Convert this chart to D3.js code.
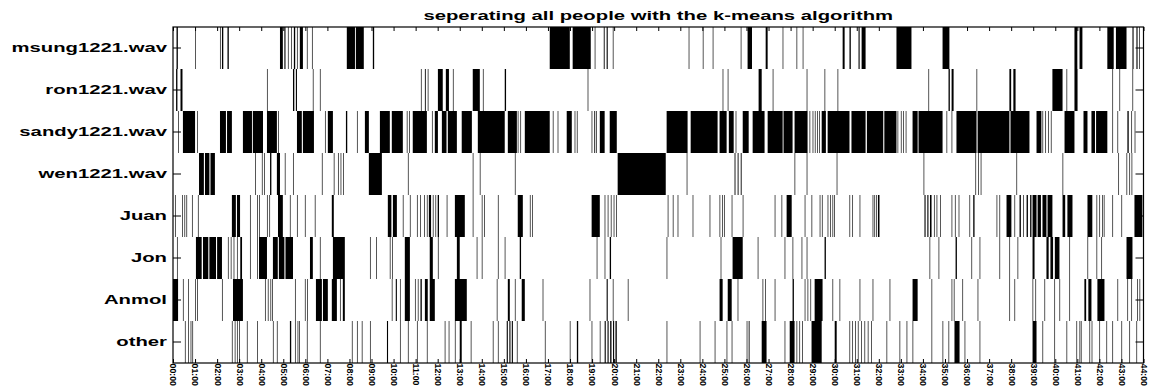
<!DOCTYPE html>
<html>
<head>
<meta charset="utf-8">
<script src="https://cdn.jsdelivr.net/npm/d3@7"></script>
<style>
  body { margin: 0; background: #fff; }
  svg { display: block; }
  text { font-family: "Liberation Sans", Arial, sans-serif; fill: #000; }
</style>
</head>
<body>
<svg id="chart" width="1150" height="387"></svg>
<script>
// Speaker rows, top to bottom
const speakers = ["msung1221.wav", "ron1221.wav", "sandy1221.wav", "wen1221.wav", "Juan", "Jon", "Anmol", "other"];

// Minute tick labels along the time axis
const tickLabels = ["00:00","01:00","02:00","03:00","04:00","05:00","06:00","07:00","08:00","09:00",
  "10:00","11:00","12:00","13:00","14:00","15:00","16:00","17:00","18:00","19:00",
  "20:00","21:00","22:00","23:00","24:00","25:00","26:00","27:00","28:00","29:00",
  "30:00","31:00","32:00","33:00","34:00","35:00","36:00","37:00","38:00","39:00",
  "40:00","41:00","42:00","43:00","44:00"];

const titleText = "seperating all people with the k-means algorithm";

// Segments assigned to each cluster: [start, end] in minutes
const segMsung = [
  [0.16,0.22],[1.00,1.03],[2.13,2.16],[2.22,2.28],[2.47,2.53],
  [4.85,4.98],[5.05,5.10],[5.21,5.24],[5.35,5.38],[5.48,5.54],[5.62,5.65],[5.75,5.89],[6.07,6.10],[6.30,6.33],
  [7.88,8.25],[8.29,8.65],[9.06,9.12],
  [17.08,17.99],[18.12,18.94],[19.12,19.15],[19.53,19.57],[19.66,19.71],[19.94,19.97],
  [23.38,23.41],[24.02,24.05],[24.47,24.50],[25.74,25.77],[26.05,26.25],[26.87,26.96],[27.64,27.67],[28.27,28.30],[28.55,28.58],
  [30.36,30.45],[30.67,30.73],[31.08,31.13],[31.22,31.40],[32.80,33.48],
  [34.89,35.20],[40.87,41.00],[41.10,41.23],[42.36,42.65],[42.75,43.23],[43.50,43.55],[43.68,43.73],[43.81,43.84]
];

const segRon = [
  [0.14,0.20],[0.34,0.43],[4.26,4.29],[5.44,5.50],[5.57,5.62],[6.34,6.37],[6.66,6.69],
  [11.24,11.27],[11.42,11.46],[11.55,11.58],[12.01,12.23],[12.37,12.51],[12.69,12.72],[13.59,13.91],[14.05,14.08],[15.04,15.10],[18.80,18.83],
  [24.92,24.95],[25.15,25.18],[26.55,26.69],[27.19,27.22],[28.73,28.76],[29.54,29.57],[30.13,30.16],
  [34.25,34.28],[35.16,35.22],[35.30,35.39],[36.43,36.46],[37.92,38.00],[38.10,38.20],[39.87,40.33],[40.51,40.54],[40.87,41.01],
  [42.59,42.62],[42.91,42.94],[43.50,43.53]
];

const segSandy = [
  [0.23,0.26],[0.45,1.00],[1.09,1.12],[2.13,2.40],[2.45,2.67],[3.17,3.58],[3.62,4.08],[4.26,4.71],[4.76,4.79],
  [5.62,5.84],[5.89,6.39],[6.89,6.92],[7.02,7.25],[7.84,7.90],[8.34,8.37],[8.70,8.88],[9.38,9.83],[9.92,10.42],[10.60,10.63],[10.70,10.73],
  [10.87,11.51],[11.74,11.77],[11.87,12.01],[12.19,12.40],[12.46,12.87],[13.09,13.55],[13.82,15.04],[15.18,15.59],[15.63,15.66],[15.75,15.78],
  [15.95,17.08],[17.22,17.25],[17.44,17.47],[17.85,18.08],[18.21,18.24],[18.31,18.34],[18.98,19.01],[19.10,19.14],[19.18,19.21],[19.35,19.57],[19.80,20.12],
  [22.38,23.33],[23.47,24.69],[24.78,25.10],[25.20,25.42],[25.51,25.54],[25.83,26.10],[26.28,26.82],[26.96,27.64],[27.68,28.09],[28.18,28.77],
  [28.86,28.89],[29.00,29.03],[29.10,29.13],[29.20,29.23],[29.29,29.32],[29.41,29.60],[29.68,30.67],[30.76,31.40],[31.46,32.20],[32.25,32.80],
  [32.85,32.88],[33.00,33.03],[33.10,33.13],[33.22,33.25],
  [33.53,33.76],[33.80,34.89],[35.07,35.10],[35.30,35.33],[35.52,36.43],[36.48,37.92],[37.97,38.83],[39.15,39.37],[39.42,39.45],[39.55,39.58],
  [39.68,39.71],[39.80,39.83],[40.42,40.87],[41.28,41.46],[41.64,41.80],[41.85,42.36],[42.59,42.62],[42.82,42.85],[43.27,43.33],[43.45,43.48],[43.60,43.63]
];

const segWen = [
  [1.18,1.40],[1.45,1.65],[1.70,1.90],[3.72,3.75],[4.03,4.06],[4.14,4.17],[4.40,4.46],[4.71,4.85],[5.07,5.10],[5.44,5.47],
  [6.75,6.78],[7.29,7.32],[7.48,7.51],[7.60,7.63],[7.72,7.75],[8.88,9.47],[10.65,10.68],
  [13.59,13.62],[13.91,13.94],[15.50,15.53],[20.16,22.34],
  [23.29,23.32],[25.46,25.50],[25.60,25.64],[25.74,25.78],[28.18,28.21],[28.73,28.76],[30.09,30.12],
  [34.03,34.06],[36.38,36.41],[36.50,36.53],[36.62,36.65],[38.24,38.27],[40.33,40.36],[42.86,42.89],[43.23,43.26],[43.36,43.39],[43.46,43.49]
];

const segJuan = [
  [0.09,0.12],[0.41,0.44],[0.52,0.55],[0.61,0.64],[0.86,0.89],[1.13,1.16],[2.67,2.85],[2.90,3.04],[3.49,3.52],[3.81,3.84],[3.91,3.94],
  [4.26,4.29],[4.37,4.40],[4.76,4.98],[5.30,5.33],[5.62,5.65],[5.98,6.01],[6.43,6.46],[7.20,7.29],[9.74,9.90],[9.97,10.15],[10.42,10.45],[10.74,10.77],
  [11.06,11.09],[11.20,11.23],[11.38,11.41],[11.51,11.54],[11.60,11.70],[11.78,11.81],[11.90,11.93],[12.00,12.06],[12.41,12.44],[12.78,13.23],
  [13.59,13.62],[14.00,14.03],[14.11,14.14],[14.73,14.76],[15.63,15.86],[16.18,16.21],[16.28,16.31],[18.98,19.35],
  [19.57,19.60],[19.71,19.74],[19.85,19.88],[19.98,20.01],[20.09,20.12],
  [22.43,22.46],[22.66,22.69],[22.88,22.91],[23.56,23.59],[24.33,24.36],[24.78,24.81],[24.90,24.93],[24.98,25.01],[25.33,25.36],[25.83,25.86],
  [27.28,27.31],[27.59,27.62],[27.82,28.05],[28.64,28.67],[28.95,28.98],[29.32,29.35],[29.42,29.45],[29.68,29.71],[29.80,29.83],[29.90,29.93],[29.97,30.00],
  [30.67,30.70],[30.80,30.83],[31.13,31.16],[31.72,31.75],[31.80,31.83],[31.88,31.91],[31.96,32.03],
  [34.07,34.12],[34.20,34.25],[34.32,34.39],[34.50,34.53],[34.62,34.65],[34.78,34.81],[35.30,35.33],[35.45,35.48],[35.62,35.65],[36.11,36.14],[36.28,36.34],
  [37.34,37.37],[37.47,37.50],[37.79,38.01],[38.15,38.18],[38.38,38.44],[38.55,38.58],[38.70,38.76],[38.86,38.92],
  [38.97,39.15],[39.20,39.35],[39.42,39.60],[39.65,39.87],[40.33,40.45],[40.55,40.78],[41.46,41.68],
  [41.87,41.90],[42.00,42.03],[42.12,42.15],[42.20,42.23],[42.59,42.62],[43.00,43.03],[43.59,43.95]
];

const segJon = [
  [0.18,0.21],[1.04,1.30],[1.36,1.60],[1.65,1.95],[2.00,2.22],[2.49,2.52],[2.62,2.65],[2.75,2.78],[2.90,2.93],[3.05,3.13],[3.49,3.52],
  [3.81,3.84],[3.90,4.26],[4.53,4.75],[4.80,5.05],[5.10,5.44],[6.21,6.34],[6.66,6.69],[7.25,7.79],[8.93,8.96],[9.21,9.24],[9.83,9.86],[9.94,9.97],[10.51,10.74],
  [11.64,11.78],[12.01,12.04],[12.87,13.00],[13.77,13.80],[14.00,14.03],[14.73,14.76],[15.04,15.07],[15.72,15.78],[19.21,19.24],[19.57,19.60],[19.80,19.86],
  [22.38,22.41],[24.83,24.86],[25.37,25.83],[26.51,26.54],[27.73,27.76],[28.09,28.12],[28.50,28.53],[28.73,28.76],[29.54,29.60],
  [34.30,34.33],[34.71,34.74],[35.48,35.54],[36.20,36.23],[36.57,36.60],[37.47,37.50],[37.92,37.95],[38.29,38.32],[38.97,39.06],
  [39.60,39.70],[39.78,39.90],[39.98,40.19],[40.64,40.67],[41.46,41.49],[41.87,41.90],[42.09,42.12],[43.23,43.50]
];

const segAnmol = [
  [0.00,0.23],[0.45,0.48],[0.68,0.71],[1.00,1.03],[1.10,1.13],[2.22,2.25],[2.72,3.17],[4.17,4.20],[4.30,4.33],[4.42,4.45],[4.50,4.53],
  [5.53,5.56],[5.98,6.01],[6.09,6.12],[6.48,6.75],[6.80,7.02],[7.20,7.43],[7.57,7.60],[7.70,7.79],[9.92,9.95],[10.10,10.15],[10.29,10.32],[10.51,10.74],
  [10.97,11.00],[11.10,11.13],[11.22,11.28],[11.42,11.55],[11.64,11.87],[12.78,13.32],[14.68,14.71],[15.18,15.27],[15.50,15.53],[15.81,15.95],
  [16.76,16.79],[18.89,18.92],[19.66,19.71],[19.94,19.97],[20.62,20.65],
  [24.78,24.92],[25.15,25.33],[25.60,25.63],[26.73,26.76],[26.85,26.88],[27.28,27.31],[28.09,28.15],[28.64,28.67],[28.77,28.80],[28.90,28.93],
  [29.09,29.45],[29.90,29.93],[30.22,30.25],[31.13,31.16],[31.72,31.75],[32.49,32.52],
  [33.53,33.76],[34.39,34.42],[35.30,35.33],[35.40,35.43],[35.79,35.82],[36.48,36.51],[37.92,37.95],[38.15,38.18],[38.97,39.00],[39.10,39.13],
  [39.51,39.54],[39.96,39.99],[40.19,40.22],[40.64,40.67],[41.32,41.40],[41.50,41.64],[41.91,42.23],[42.82,42.85],[43.27,43.30],[43.45,43.48],
  [43.72,43.75],[43.82,43.85]
];

const segOther = [
  [0.54,0.57],[0.68,0.71],[0.80,0.83],[0.88,0.91],[2.67,2.70],[2.80,2.83],[2.90,2.93],[3.00,3.03],[3.35,3.38],[3.81,3.84],[4.53,4.56],[4.71,4.74],
  [5.30,5.36],[5.53,5.56],[5.65,5.68],[5.72,5.75],[6.07,6.10],[6.66,6.69],[8.11,8.14],[8.34,8.37],[8.56,8.59],[8.93,8.96],[9.70,9.75],[10.29,10.32],[10.65,10.68],
  [11.06,11.09],[11.51,11.54],[12.32,12.35],[12.50,12.53],[12.78,12.81],[13.00,13.09],[13.50,13.53],[14.50,14.53],[14.73,14.76],
  [15.13,15.18],[15.25,15.30],[15.36,15.41],[15.59,15.62],[16.86,16.89],[17.99,18.02],[18.31,18.37],[18.98,19.01],[19.35,19.38],
  [19.57,19.62],[19.70,19.75],[19.82,19.88],[19.95,20.00],[20.06,20.12],
  [22.38,22.41],[23.88,23.91],[24.56,24.59],[25.10,25.13],[25.33,25.36],[26.01,26.04],[26.10,26.14],[26.69,26.91],[27.73,27.76],[27.96,28.18],
  [28.27,28.30],[28.40,28.43],[28.52,28.55],[28.95,29.41],[30.00,30.09],
  [30.67,30.70],[30.80,30.83],[30.92,30.95],[31.05,31.08],[31.20,31.23],[31.35,31.38],[31.50,31.53],[31.65,31.68],[32.35,32.38],[32.94,32.97],
  [33.26,33.29],[33.53,33.56],[34.39,34.42],[34.89,34.92],[35.16,35.19],[35.43,35.66],[35.89,35.92],[36.57,36.60],[38.97,39.15],[39.42,39.45],
  [39.96,39.99],[40.51,40.54],[40.96,40.99],[41.10,41.13],[41.16,41.19],[41.55,41.58],[41.65,41.68],[42.00,42.03],[42.32,42.35],[42.59,42.62],
  [43.00,43.03],[43.36,43.39],[43.68,43.71]
];

const segmentsBySpeaker = [segMsung, segRon, segSandy, segWen, segJuan, segJon, segAnmol, segOther];

// ---- layout ----
const svg = d3.select("#chart");
const plotLeft = 173, plotRight = 1143.5, plotTop = 27, plotBottom = 363;
const textStretch = 1.69;   // wide lettering of the title and row labels

const x = d3.scaleLinear().domain([0, 44]).range([plotLeft, plotRight]);
const y = d3.scaleBand().domain(speakers).range([plotTop, plotBottom]).padding(0);

// ---- segment bars ----
const rowsG = svg.append("g");
speakers.forEach((name, i) => {
  rowsG.append("g")
    .selectAll("rect")
    .data(segmentsBySpeaker[i])
    .join("rect")
    .attr("x", d => x(d[0]))
    .attr("y", y(name))
    .attr("width", d => Math.max(x(d[1]) - x(d[0]), 0.6))
    .attr("height", y.bandwidth())
    .attr("fill", "#000");
});

// ---- axes (inward ticks) ----
const minuteTicks = d3.range(tickLabels.length);

const xBottom = svg.append("g")
  .attr("transform", `translate(0,${plotBottom})`)
  .call(d3.axisBottom(x).tickValues(minuteTicks).tickSize(-4).tickSizeOuter(0)
    .tickFormat(i => tickLabels[i]));
xBottom.selectAll("text")
  .attr("transform", "rotate(90)")
  .attr("x", 0.5)
  .attr("y", 0)
  .attr("dy", "0.35em")
  .attr("text-anchor", "start")
  .style("font-size", "8.8px")
  .style("font-weight", "bold");

svg.append("g")
  .attr("transform", `translate(0,${plotTop})`)
  .call(d3.axisTop(x).tickValues(minuteTicks).tickSize(-4).tickSizeOuter(0).tickFormat(""));

const yLeft = svg.append("g")
  .attr("transform", `translate(${plotLeft},0)`)
  .call(d3.axisLeft(y).tickSize(-8).tickSizeOuter(0).tickPadding(6));
yLeft.selectAll("text")
  .attr("x", null)
  .attr("dy", null)
  .attr("dominant-baseline", "central")
  .attr("transform", `translate(-6,0) scale(${textStretch},1)`)
  .style("font-size", "12px")
  .style("font-weight", "bold");

svg.append("g")
  .attr("transform", `translate(${plotRight},0)`)
  .call(d3.axisRight(y).tickSize(-8).tickSizeOuter(0).tickFormat(""));

svg.selectAll(".domain").remove();
svg.selectAll(".tick line").attr("stroke", "#000").attr("stroke-width", 1);

// ---- frame ----
svg.append("rect")
  .attr("x", plotLeft).attr("y", plotTop)
  .attr("width", plotRight - plotLeft).attr("height", plotBottom - plotTop)
  .attr("fill", "none").attr("stroke", "#000").attr("stroke-width", 1.2);

// ---- title ----
svg.append("text")
  .attr("transform", `translate(${(plotLeft + plotRight) / 2},19.5) scale(${textStretch},1)`)
  .attr("text-anchor", "middle")
  .style("font-size", "12px")
  .style("font-weight", "bold")
  .text(titleText);
</script>
</body>
</html>
